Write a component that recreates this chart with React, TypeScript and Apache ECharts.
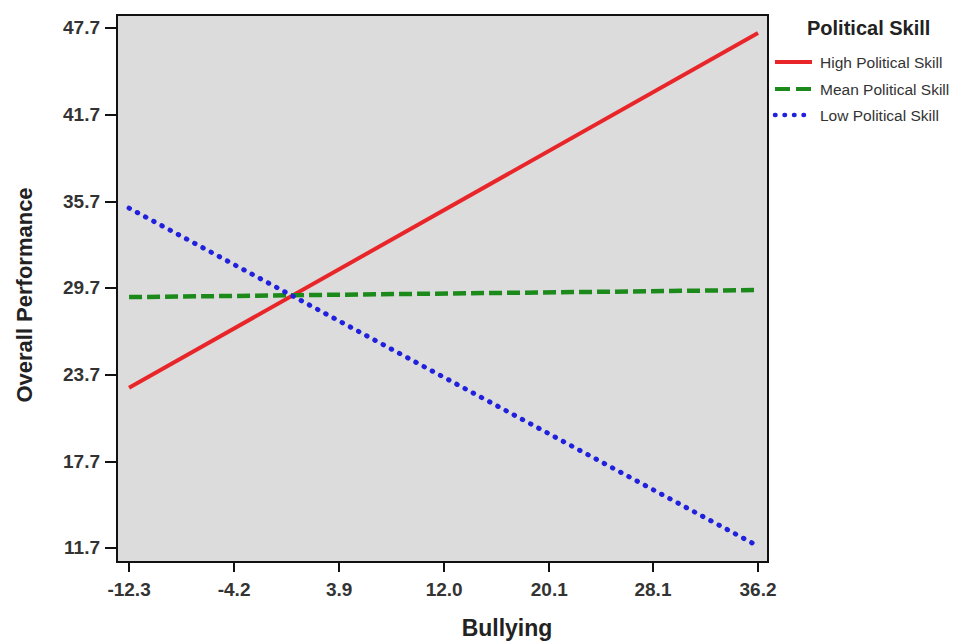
import React, { useEffect, useRef } from "react";
import * as echarts from "echarts";

const xTicks = [-12.3, -4.2, 3.9, 12.0, 20.1, 28.1, 36.2];
const yTicks = [11.7, 17.7, 23.7, 29.7, 35.7, 41.7, 47.7];
const seriesNames = ["High Political Skill", "Mean Political Skill", "Low Political Skill"];
const xEnds = [-12.3, 36.2];
const highValues = [22.8, 47.35];
const meanValues = [29.07, 29.56];
const lowValues = [35.23, 11.83];

const FONT = "'Liberation Sans', Arial, sans-serif";
const colors = ["#e8262a", "#1b8a1b", "#2020dd"];
const dashes: (number[] | undefined)[] = [undefined, [13, 5], [0.5, 8.8]];
const widths = [4, 4.5, 5];

export default function App() {
  const ref = useRef<HTMLDivElement>(null);
  useEffect(() => {
    document.body.style.margin = "0";
    if (!ref.current) return;
    const chart = echarts.init(ref.current, undefined, { renderer: "svg" });
    const pts = (vals: number[]) => xEnds.map((x, i) => [x, vals[i]]);
    const legendYs = [62, 89, 115];
    const legendGraphics: any[] = [];
    seriesNames.forEach((name, i) => {
      legendGraphics.push({
        type: "line",
        shape: { x1: 775, y1: legendYs[i], x2: 812, y2: legendYs[i] },
        style: {
          stroke: colors[i],
          lineWidth: i === 2 ? 4.5 : 4,
          lineDash: i === 2 ? [0.5, 9] : i === 1 ? [15, 6] : null,
          lineCap: i === 2 ? "round" : "butt",
        },
      });
      legendGraphics.push({
        type: "text",
        x: 820,
        y: legendYs[i],
        style: {
          text: name,
          font: `15.5px ${FONT}`,
          fill: "#333",
          verticalAlign: "middle",
        },
      });
    });
    chart.setOption({
      animation: false,
      backgroundColor: "#ffffff",
      textStyle: { fontFamily: FONT },
      grid: {
        left: 117,
        right: 203,
        top: 15,
        bottom: 81,
        show: true,
        backgroundColor: "#dcdcdc",
        borderColor: "#111",
        borderWidth: 2,
      },
      xAxis: {
        type: "value",
        min: -13.23,
        max: 36.97,
        splitLine: { show: false },
        axisLine: { show: true, onZero: false, lineStyle: { color: "#111", width: 2 } },
        axisTick: { show: true, length: 10, customValues: xTicks, lineStyle: { color: "#111", width: 2 } },
        axisLabel: {
          customValues: xTicks,
          formatter: (v: number) => v.toFixed(1),
          fontSize: 19,
          fontWeight: "bold",
          color: "#333",
          margin: 18,
          fontFamily: FONT,
        },
      },
      yAxis: {
        type: "value",
        min: 10.73,
        max: 48.6,
        splitLine: { show: false },
        axisLine: { show: true, onZero: false, lineStyle: { color: "#111", width: 2 } },
        axisTick: { show: true, length: 12, customValues: yTicks, lineStyle: { color: "#111", width: 2 } },
        axisLabel: {
          customValues: yTicks,
          formatter: (v: number) => v.toFixed(1),
          fontSize: 19,
          fontWeight: "bold",
          color: "#333",
          margin: 17,
          fontFamily: FONT,
        },
      },
      graphic: [
        {
          type: "text",
          x: 807,
          y: 28,
          style: {
            text: "Political Skill",
            font: `bold 20px ${FONT}`,
            fill: "#222",
            verticalAlign: "middle",
          },
        },
        ...legendGraphics,
        {
          type: "text",
          x: 24,
          y: 295,
          rotation: Math.PI / 2,
          style: {
            text: "Overall Performance",
            font: `bold 22px ${FONT}`,
            fill: "#222",
            align: "center",
            verticalAlign: "middle",
          },
        },
        {
          type: "text",
          x: 507,
          y: 628,
          style: {
            text: "Bullying",
            font: `bold 23px ${FONT}`,
            fill: "#222",
            align: "center",
            verticalAlign: "middle",
          },
        },
      ],
      series: [0, 1, 2].map((i) => ({
        name: seriesNames[i],
        type: "line",
        data: pts([highValues, meanValues, lowValues][i]),
        symbol: "none",
        color: colors[i],
        lineStyle: {
          color: colors[i],
          width: widths[i],
          type: dashes[i] ?? "solid",
          cap: i === 2 ? "round" : "butt",
        },
      })),
    });
    return () => chart.dispose();
  }, []);
  return <div ref={ref} style={{ position: "absolute", left: 0, top: 0, width: 971, height: 643 }} />;
}
